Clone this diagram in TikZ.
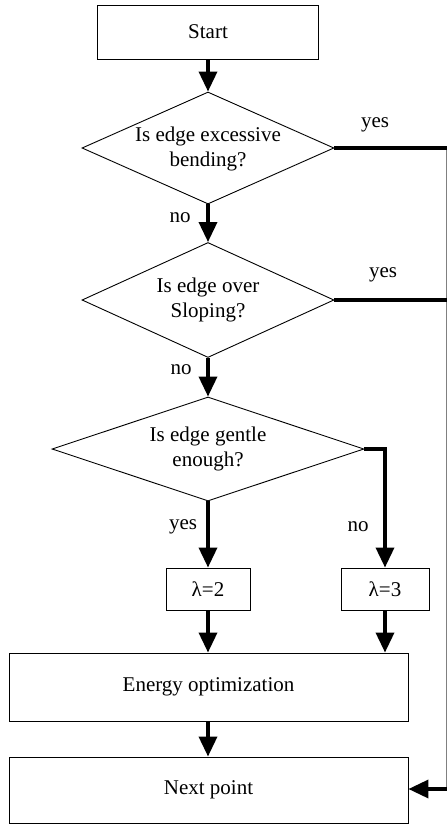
\documentclass[tikz,border=0pt]{standalone}
\usepackage{fontspec}
\setmainfont{Liberation Serif}
\usetikzlibrary{shapes.geometric,arrows.meta}
\tikzset{
  box/.style={draw=black, line width=0.9pt, rectangle, inner sep=0pt, font=\fontsize{21}{25}\selectfont},
  dia/.style={draw=black, line width=0.9pt, diamond, inner sep=0pt},
  txt/.style={align=center, inner sep=0pt, font=\fontsize{21}{25}\selectfont},
  lbl/.style={inner sep=0pt, font=\fontsize{21}{25}\selectfont},
  conn/.style={line width=3.5pt, -{Triangle[width=18pt,length=20pt]}},
  plain/.style={line width=3.5pt},
  side/.style={draw=gray, line width=1pt}
}
\begin{document}
\begin{tikzpicture}[x=1pt,y=-1pt]
\useasboundingbox (0,0) rectangle (447,825);
\node[box, minimum width=221pt, minimum height=54pt] (start) at (208,32) {Start};
\node[dia, minimum width=252pt, minimum height=112pt] (d1) at (208,148) {};
\node[txt] (t1) at (208,149) {Is edge excessive\\bending?};
\node[dia, minimum width=252pt, minimum height=115pt] (d2) at (208,300) {};
\node[txt] (t2) at (208,300) {Is edge over\\Sloping?};
\node[dia, minimum width=312pt, minimum height=104pt] (d3) at (208,449) {};
\node[txt] (t3) at (208,449) {Is edge gentle\\enough?};
\node[box, minimum width=84pt, minimum height=42pt] (l2) at (208,589) {λ=2};
\node[box, minimum width=88pt, minimum height=42pt] (l3) at (385,589) {λ=3};
\node[box, minimum width=399pt, minimum height=68pt] (en) at (208.5,687) {Energy optimization};
\node[box, minimum width=399pt, minimum height=66pt] (nx) at (208.5,790) {Next point};
\coordinate (rt) at (446,148);
\coordinate (rb) at (446,789);
\node[lbl] (y1) at (375,125) {yes};
\node[lbl] (y2) at (383,275) {yes};
\node[lbl] (n1) at (180,218) {no};
\node[lbl] (n2) at (181,370) {no};
\node[lbl] (y3) at (183,527) {yes};
\node[lbl] (n3) at (358,527) {no};
\draw[side] (rt) -- (rb);
\draw[conn] (start) -- (d1);
\draw[conn] (d1) -- (d2);
\draw[conn] (d2) -- (d3);
\draw[plain] (d1.east) -- ([xshift=1pt]d1.east -| rt);
\draw[plain] (d2.east) -- ([xshift=1pt]d2.east -| rt);
\draw[conn] (d3) -- (l2);
\draw[conn] (d3.east) -- (d3.east -| l3) -- (l3.north);
\draw[conn] (l2) -- (l2 |- en.north);
\draw[conn] (l3) -- (l3 |- en.north);
\draw[conn] (en.south -| l2) -- (nx.north -| l2);
\draw[conn] ([xshift=1pt]rb) -- (rb -| nx.east);
\end{tikzpicture}
\end{document}
